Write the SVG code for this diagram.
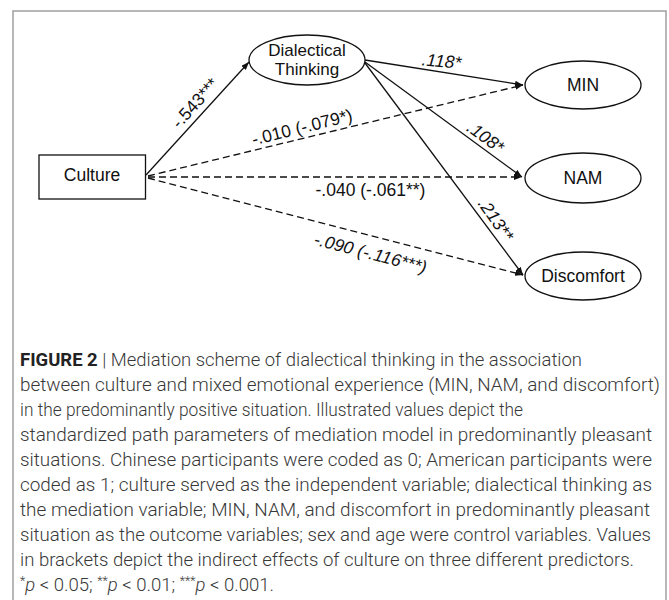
<svg xmlns="http://www.w3.org/2000/svg" width="669" height="600" viewBox="0 0 669 600">
<defs>
<marker id="arr" markerUnits="userSpaceOnUse" markerWidth="8" markerHeight="6" refX="8" refY="3" orient="auto">
<path d="M0,0 L8,3 L0,6 z" fill="#111"/>
</marker>
<style>
.node{fill:#fff;stroke:#111;stroke-width:1.3}
.nt{font-family:"Liberation Sans",Arial,sans-serif;font-size:17.5px;fill:#111;text-anchor:middle}
.lbl{font-family:"Liberation Sans",Arial,sans-serif;font-size:17.5px;fill:#111;text-anchor:middle}
.it{font-style:italic}
.e{fill:none;stroke:#111;stroke-width:1.3;marker-end:url(#arr)}
.d{stroke-dasharray:7 4}
.cap{font-family:Roboto,"Liberation Sans",Arial,sans-serif;font-weight:300;font-size:18px;fill:#383838}
</style>
</defs>
<rect width="669" height="600" fill="#fff"/>
<path d="M13,600 V11 H666 V600" fill="none" stroke="#a0a0a0" stroke-width="1.5"/>

<g id="connectors">
<path class="e" d="M146,175 L249,62"/>
<path class="e" d="M365,60 L523,85"/>
<path class="e" d="M365,62 L522,177"/>
<path class="e" d="M365,63 L523,275"/>
<path class="e d" d="M148,176 L523,85"/>
<path class="e d" d="M148,177 L522,177"/>
<path class="e d" d="M148,178 L523,275"/>
</g>

<g id="edge-labels">
<text class="lbl" x="199.5" y="107" transform="rotate(-48 199.5 107)">-.543***</text>
<text class="lbl" x="303.5" y="133" transform="rotate(-14 303.5 133)">-.010 (-.079*)</text>
<text class="lbl" x="370.5" y="196">-.040 (-.061**)</text>
<text class="lbl it" x="369" y="259" transform="rotate(14.5 369 259)">-.090 (-.116***)</text>
<text class="lbl it" x="441" y="67" transform="rotate(5 441 67)">.118*</text>
<text class="lbl it" x="482" y="142" transform="rotate(36 482 142)">.108*</text>
<text class="lbl it" x="491" y="223" transform="rotate(55 491 223)">.213**</text>
</g>

<g id="culture">
<rect class="node" x="39" y="155" width="106.5" height="44"/>
<text class="nt" x="92" y="181">Culture</text>
</g>
<g id="dialectical">
<ellipse class="node" cx="307" cy="60" rx="58" ry="25"/>
<text class="nt" x="307" y="56" style="font-size:17px">Dialectical</text>
<text class="nt" x="307" y="75" style="font-size:17px">Thinking</text>
</g>
<g id="min">
<ellipse class="node" cx="583" cy="85" rx="58" ry="24"/>
<text class="nt" x="583" y="91">MIN</text>
</g>
<g id="nam">
<ellipse class="node" cx="583" cy="178" rx="58" ry="25"/>
<text class="nt" x="583" y="184">NAM</text>
</g>
<g id="discomfort">
<ellipse class="node" cx="583" cy="276" rx="58" ry="24"/>
<text class="nt" x="583" y="282">Discomfort</text>
</g>

<g id="caption">
<text class="cap" x="20" y="366" textLength="562" lengthAdjust="spacingAndGlyphs"><tspan font-weight="bold" fill="#222">FIGURE 2</tspan> | Mediation scheme of dialectical thinking in the association</text>
<text class="cap" x="20" y="391" textLength="640" lengthAdjust="spacingAndGlyphs">between culture and mixed emotional experience (MIN, NAM, and discomfort)</text>
<text class="cap" x="20" y="416" textLength="503" lengthAdjust="spacingAndGlyphs">in the predominantly positive situation. Illustrated values depict the</text>
<text class="cap" x="20" y="441" textLength="632" lengthAdjust="spacingAndGlyphs">standardized path parameters of mediation model in predominantly pleasant</text>
<text class="cap" x="20" y="466" textLength="632" lengthAdjust="spacingAndGlyphs">situations. Chinese participants were coded as 0; American participants were</text>
<text class="cap" x="20" y="491" textLength="632" lengthAdjust="spacingAndGlyphs">coded as 1; culture served as the independent variable; dialectical thinking as</text>
<text class="cap" x="20" y="516" textLength="630" lengthAdjust="spacingAndGlyphs">the mediation variable; MIN, NAM, and discomfort in predominantly pleasant</text>
<text class="cap" x="20" y="541" textLength="631" lengthAdjust="spacingAndGlyphs">situation as the outcome variables; sex and age were control variables. Values</text>
<text class="cap" x="20" y="566" textLength="614" lengthAdjust="spacingAndGlyphs">in brackets depict the indirect effects of culture on three different predictors.</text>
<text class="cap" x="20" y="591" textLength="254" lengthAdjust="spacingAndGlyphs"><tspan font-size="12" dy="-6">*</tspan><tspan font-style="italic" dy="6">p</tspan> &lt; 0.05; <tspan font-size="12" dy="-6">**</tspan><tspan font-style="italic" dy="6">p</tspan> &lt; 0.01; <tspan font-size="12" dy="-6">***</tspan><tspan font-style="italic" dy="6">p</tspan> &lt; 0.001.</text>
</g>
</svg>
